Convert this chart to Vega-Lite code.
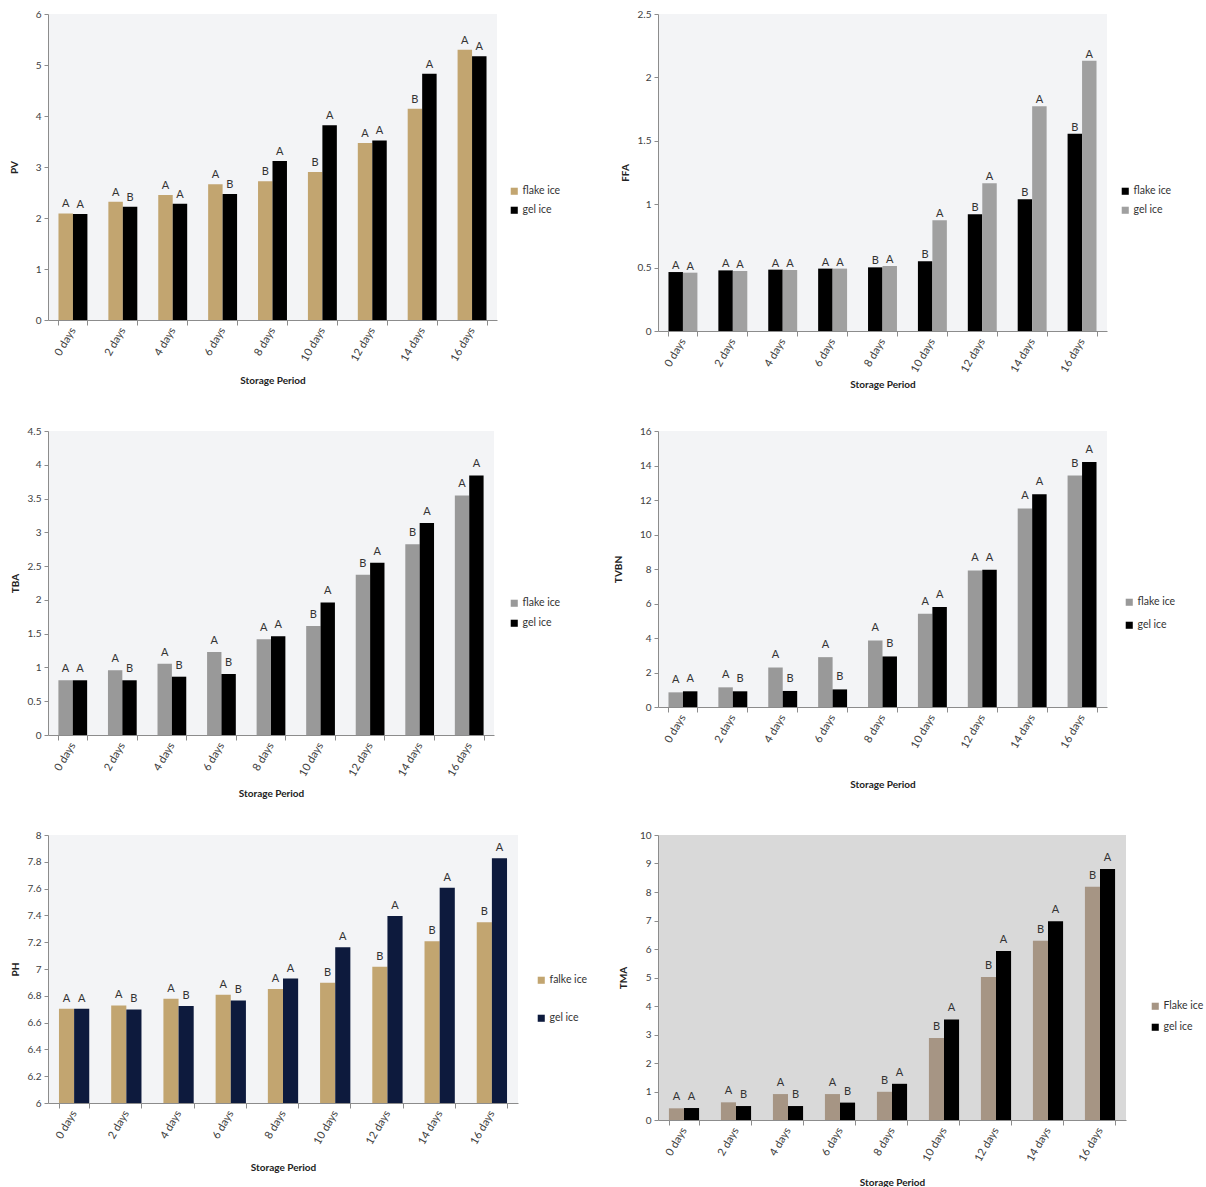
{
  "$schema": "https://vega.github.io/schema/vega-lite/v6.json",
  "padding": {"left": 9, "top": 9, "right": 0, "bottom": 0},
  "background": "white",
  "datasets": {
    "pv": [
      {"period": "0 days", "ice": "flake ice", "value": 2.09, "letter": "A"},
      {"period": "0 days", "ice": "gel ice", "value": 2.08, "letter": "A"},
      {"period": "2 days", "ice": "flake ice", "value": 2.32, "letter": "A"},
      {"period": "2 days", "ice": "gel ice", "value": 2.22, "letter": "B"},
      {"period": "4 days", "ice": "flake ice", "value": 2.45, "letter": "A"},
      {"period": "4 days", "ice": "gel ice", "value": 2.28, "letter": "A"},
      {"period": "6 days", "ice": "flake ice", "value": 2.66, "letter": "A"},
      {"period": "6 days", "ice": "gel ice", "value": 2.47, "letter": "B"},
      {"period": "8 days", "ice": "flake ice", "value": 2.72, "letter": "B"},
      {"period": "8 days", "ice": "gel ice", "value": 3.12, "letter": "A"},
      {"period": "10 days", "ice": "flake ice", "value": 2.90, "letter": "B"},
      {"period": "10 days", "ice": "gel ice", "value": 3.82, "letter": "A"},
      {"period": "12 days", "ice": "flake ice", "value": 3.47, "letter": "A"},
      {"period": "12 days", "ice": "gel ice", "value": 3.52, "letter": "A"},
      {"period": "14 days", "ice": "flake ice", "value": 4.14, "letter": "B"},
      {"period": "14 days", "ice": "gel ice", "value": 4.83, "letter": "A"},
      {"period": "16 days", "ice": "flake ice", "value": 5.30, "letter": "A"},
      {"period": "16 days", "ice": "gel ice", "value": 5.17, "letter": "A"}
    ],
    "ffa": [
      {"period": "0 days", "ice": "flake ice", "value": 0.465, "letter": "A"},
      {"period": "0 days", "ice": "gel ice", "value": 0.46, "letter": "A"},
      {"period": "2 days", "ice": "flake ice", "value": 0.478, "letter": "A"},
      {"period": "2 days", "ice": "gel ice", "value": 0.473, "letter": "A"},
      {"period": "4 days", "ice": "flake ice", "value": 0.484, "letter": "A"},
      {"period": "4 days", "ice": "gel ice", "value": 0.481, "letter": "A"},
      {"period": "6 days", "ice": "flake ice", "value": 0.492, "letter": "A"},
      {"period": "6 days", "ice": "gel ice", "value": 0.492, "letter": "A"},
      {"period": "8 days", "ice": "flake ice", "value": 0.502, "letter": "B"},
      {"period": "8 days", "ice": "gel ice", "value": 0.513, "letter": "A"},
      {"period": "10 days", "ice": "flake ice", "value": 0.55, "letter": "B"},
      {"period": "10 days", "ice": "gel ice", "value": 0.873, "letter": "A"},
      {"period": "12 days", "ice": "flake ice", "value": 0.92, "letter": "B"},
      {"period": "12 days", "ice": "gel ice", "value": 1.165, "letter": "A"},
      {"period": "14 days", "ice": "flake ice", "value": 1.04, "letter": "B"},
      {"period": "14 days", "ice": "gel ice", "value": 1.772, "letter": "A"},
      {"period": "16 days", "ice": "flake ice", "value": 1.556, "letter": "B"},
      {"period": "16 days", "ice": "gel ice", "value": 2.132, "letter": "A"}
    ],
    "tba": [
      {"period": "0 days", "ice": "flake ice", "value": 0.81, "letter": "A"},
      {"period": "0 days", "ice": "gel ice", "value": 0.81, "letter": "A"},
      {"period": "2 days", "ice": "flake ice", "value": 0.957, "letter": "A"},
      {"period": "2 days", "ice": "gel ice", "value": 0.81, "letter": "B"},
      {"period": "4 days", "ice": "flake ice", "value": 1.056, "letter": "A"},
      {"period": "4 days", "ice": "gel ice", "value": 0.863, "letter": "B"},
      {"period": "6 days", "ice": "flake ice", "value": 1.228, "letter": "A"},
      {"period": "6 days", "ice": "gel ice", "value": 0.903, "letter": "B"},
      {"period": "8 days", "ice": "flake ice", "value": 1.416, "letter": "A"},
      {"period": "8 days", "ice": "gel ice", "value": 1.46, "letter": "A"},
      {"period": "10 days", "ice": "flake ice", "value": 1.613, "letter": "B"},
      {"period": "10 days", "ice": "gel ice", "value": 1.963, "letter": "A"},
      {"period": "12 days", "ice": "flake ice", "value": 2.373, "letter": "B"},
      {"period": "12 days", "ice": "gel ice", "value": 2.55, "letter": "A"},
      {"period": "14 days", "ice": "flake ice", "value": 2.822, "letter": "B"},
      {"period": "14 days", "ice": "gel ice", "value": 3.138, "letter": "A"},
      {"period": "16 days", "ice": "flake ice", "value": 3.547, "letter": "A"},
      {"period": "16 days", "ice": "gel ice", "value": 3.843, "letter": "A"}
    ],
    "tvbn": [
      {"period": "0 days", "ice": "flake ice", "value": 0.85, "letter": "A"},
      {"period": "0 days", "ice": "gel ice", "value": 0.91, "letter": "A"},
      {"period": "2 days", "ice": "flake ice", "value": 1.14, "letter": "A"},
      {"period": "2 days", "ice": "gel ice", "value": 0.91, "letter": "B"},
      {"period": "4 days", "ice": "flake ice", "value": 2.29, "letter": "A"},
      {"period": "4 days", "ice": "gel ice", "value": 0.93, "letter": "B"},
      {"period": "6 days", "ice": "flake ice", "value": 2.89, "letter": "A"},
      {"period": "6 days", "ice": "gel ice", "value": 1.02, "letter": "B"},
      {"period": "8 days", "ice": "flake ice", "value": 3.86, "letter": "A"},
      {"period": "8 days", "ice": "gel ice", "value": 2.93, "letter": "B"},
      {"period": "10 days", "ice": "flake ice", "value": 5.40, "letter": "A"},
      {"period": "10 days", "ice": "gel ice", "value": 5.80, "letter": "A"},
      {"period": "12 days", "ice": "flake ice", "value": 7.92, "letter": "A"},
      {"period": "12 days", "ice": "gel ice", "value": 7.96, "letter": "A"},
      {"period": "14 days", "ice": "flake ice", "value": 11.51, "letter": "A"},
      {"period": "14 days", "ice": "gel ice", "value": 12.34, "letter": "A"},
      {"period": "16 days", "ice": "flake ice", "value": 13.42, "letter": "B"},
      {"period": "16 days", "ice": "gel ice", "value": 14.21, "letter": "A"}
    ],
    "ph": [
      {"period": "0 days", "ice": "falke ice", "value": 6.703, "letter": "A"},
      {"period": "0 days", "ice": "gel ice", "value": 6.703, "letter": "A"},
      {"period": "2 days", "ice": "falke ice", "value": 6.728, "letter": "A"},
      {"period": "2 days", "ice": "gel ice", "value": 6.698, "letter": "B"},
      {"period": "4 days", "ice": "falke ice", "value": 6.778, "letter": "A"},
      {"period": "4 days", "ice": "gel ice", "value": 6.723, "letter": "B"},
      {"period": "6 days", "ice": "falke ice", "value": 6.807, "letter": "A"},
      {"period": "6 days", "ice": "gel ice", "value": 6.765, "letter": "B"},
      {"period": "8 days", "ice": "falke ice", "value": 6.85, "letter": "A"},
      {"period": "8 days", "ice": "gel ice", "value": 6.929, "letter": "A"},
      {"period": "10 days", "ice": "falke ice", "value": 6.897, "letter": "B"},
      {"period": "10 days", "ice": "gel ice", "value": 7.163, "letter": "A"},
      {"period": "12 days", "ice": "falke ice", "value": 7.016, "letter": "B"},
      {"period": "12 days", "ice": "gel ice", "value": 7.396, "letter": "A"},
      {"period": "14 days", "ice": "falke ice", "value": 7.207, "letter": "B"},
      {"period": "14 days", "ice": "gel ice", "value": 7.607, "letter": "A"},
      {"period": "16 days", "ice": "falke ice", "value": 7.349, "letter": "B"},
      {"period": "16 days", "ice": "gel ice", "value": 7.826, "letter": "A"}
    ],
    "tma": [
      {"period": "0 days", "ice": "Flake ice", "value": 0.41, "letter": "A"},
      {"period": "0 days", "ice": "gel ice", "value": 0.42, "letter": "A"},
      {"period": "2 days", "ice": "Flake ice", "value": 0.62, "letter": "A"},
      {"period": "2 days", "ice": "gel ice", "value": 0.49, "letter": "B"},
      {"period": "4 days", "ice": "Flake ice", "value": 0.91, "letter": "A"},
      {"period": "4 days", "ice": "gel ice", "value": 0.49, "letter": "B"},
      {"period": "6 days", "ice": "Flake ice", "value": 0.91, "letter": "A"},
      {"period": "6 days", "ice": "gel ice", "value": 0.61, "letter": "B"},
      {"period": "8 days", "ice": "Flake ice", "value": 0.99, "letter": "B"},
      {"period": "8 days", "ice": "gel ice", "value": 1.27, "letter": "A"},
      {"period": "10 days", "ice": "Flake ice", "value": 2.88, "letter": "B"},
      {"period": "10 days", "ice": "gel ice", "value": 3.53, "letter": "A"},
      {"period": "12 days", "ice": "Flake ice", "value": 5.02, "letter": "B"},
      {"period": "12 days", "ice": "gel ice", "value": 5.93, "letter": "A"},
      {"period": "14 days", "ice": "Flake ice", "value": 6.29, "letter": "B"},
      {"period": "14 days", "ice": "gel ice", "value": 6.97, "letter": "A"},
      {"period": "16 days", "ice": "Flake ice", "value": 8.18, "letter": "B"},
      {"period": "16 days", "ice": "gel ice", "value": 8.81, "letter": "A"}
    ]
  },
  "columns": 2,
  "align": "each",
  "bounds": "flush",
  "spacing": {"row": 100, "column": 140},
  "resolve": {
    "scale": {"x": "independent", "y": "independent", "color": "independent", "xOffset": "independent"},
    "axis": {"x": "independent", "y": "independent"},
    "legend": {"color": "independent"}
  },
  "concat": [
    {
      "width": 449, "height": 306,
      "data": {"name": "pv"},
      "view": {"fill": "#f3f4f6", "stroke": null},
      "encoding": {
        "x": {"field": "period", "type": "nominal", "sort": null, "scale": {"paddingInner": 0.42, "paddingOuter": 0.21}, "axis": {"title": "Storage Period", "titlePadding": 13}},
        "xOffset": {"field": "ice", "type": "nominal", "sort": ["flake ice", "gel ice"]},
        "y": {"field": "value", "type": "quantitative", "scale": {"domain": [0, 6]}, "axis": {"title": "PV", "values": [0, 1, 2, 3, 4, 5, 6], "format": "~r", "titlePadding": 16}}
      },
      "layer": [
        {"mark": {"type": "bar"}, "encoding": {"color": {"field": "ice", "type": "nominal", "scale": {"domain": ["flake ice", "gel ice"], "range": ["#c2a570", "#000000"]}, "legend": {"orient": "none", "legendX": 461, "legendY": 172, "rowPadding": 8}}}},
        {"mark": {"type": "text", "baseline": "bottom", "dy": -4, "fontSize": 11, "color": "#333333"}, "encoding": {"text": {"field": "letter"}}}
      ]
    },
    {
      "width": 449, "height": 317,
      "data": {"name": "ffa"},
      "view": {"fill": "#f3f4f6", "stroke": null},
      "encoding": {
        "x": {"field": "period", "type": "nominal", "sort": null, "scale": {"paddingInner": 0.42, "paddingOuter": 0.21}, "axis": {"title": "Storage Period", "titlePadding": 6}},
        "xOffset": {"field": "ice", "type": "nominal", "sort": ["flake ice", "gel ice"]},
        "y": {"field": "value", "type": "quantitative", "scale": {"domain": [0, 2.5]}, "axis": {"title": "FFA", "values": [0, 0.5, 1, 1.5, 2, 2.5], "format": "~r", "titlePadding": 7}}
      },
      "layer": [
        {"mark": {"type": "bar"}, "encoding": {"color": {"field": "ice", "type": "nominal", "scale": {"domain": ["flake ice", "gel ice"], "range": ["#000000", "#a0a0a0"]}, "legend": {"orient": "none", "legendX": 462, "legendY": 172, "rowPadding": 8}}}},
        {"mark": {"type": "text", "baseline": "bottom", "dy": -1, "fontSize": 11, "color": "#333333"}, "encoding": {"text": {"field": "letter"}}}
      ]
    },
    {
      "width": 446, "height": 304,
      "data": {"name": "tba"},
      "view": {"fill": "#f3f4f6", "stroke": null},
      "encoding": {
        "x": {"field": "period", "type": "nominal", "sort": null, "scale": {"paddingInner": 0.42, "paddingOuter": 0.21}, "axis": {"title": "Storage Period", "titlePadding": 11}},
        "xOffset": {"field": "ice", "type": "nominal", "sort": ["flake ice", "gel ice"]},
        "y": {"field": "value", "type": "quantitative", "scale": {"domain": [0, 4.5]}, "axis": {"title": "TBA", "values": [0, 0.5, 1, 1.5, 2, 2.5, 3, 3.5, 4, 4.5], "format": "~r", "titlePadding": 7}}
      },
      "layer": [
        {"mark": {"type": "bar"}, "encoding": {"color": {"field": "ice", "type": "nominal", "scale": {"domain": ["flake ice", "gel ice"], "range": ["#999999", "#000000"]}, "legend": {"orient": "none", "legendX": 461, "legendY": 167, "rowPadding": 9}}}},
        {"mark": {"type": "text", "baseline": "bottom", "dy": -6, "fontSize": 11, "color": "#333333"}, "encoding": {"text": {"field": "letter"}}}
      ]
    },
    {
      "width": 449, "height": 276,
      "data": {"name": "tvbn"},
      "view": {"fill": "#f3f4f6", "stroke": null},
      "encoding": {
        "x": {"field": "period", "type": "nominal", "sort": null, "scale": {"paddingInner": 0.42, "paddingOuter": 0.21}, "axis": {"title": "Storage Period", "titlePadding": 30}},
        "xOffset": {"field": "ice", "type": "nominal", "sort": ["flake ice", "gel ice"]},
        "y": {"field": "value", "type": "quantitative", "scale": {"domain": [0, 16]}, "axis": {"title": "TVBN", "values": [0, 2, 4, 6, 8, 10, 12, 14, 16], "format": "~r", "titlePadding": 16}}
      },
      "layer": [
        {"mark": {"type": "bar"}, "encoding": {"color": {"field": "ice", "type": "nominal", "scale": {"domain": ["flake ice", "gel ice"], "range": ["#999999", "#000000"]}, "legend": {"orient": "none", "legendX": 466, "legendY": 166, "rowPadding": 12}}}},
        {"mark": {"type": "text", "baseline": "bottom", "dy": -7, "fontSize": 11, "color": "#333333"}, "encoding": {"text": {"field": "letter"}}}
      ]
    },
    {
      "width": 470, "height": 268,
      "data": {"name": "ph"},
      "view": {"fill": "#f3f4f6", "stroke": null},
      "encoding": {
        "x": {"field": "period", "type": "nominal", "sort": null, "scale": {"paddingInner": 0.42, "paddingOuter": 0.21}, "axis": {"title": "Storage Period", "titlePadding": 17}},
        "xOffset": {"field": "ice", "type": "nominal", "sort": ["falke ice", "gel ice"]},
        "y": {"field": "value", "type": "quantitative", "scale": {"domain": [6, 8], "zero": false}, "axis": {"title": "PH", "values": [6, 6.2, 6.4, 6.6, 6.8, 7, 7.2, 7.4, 7.6, 7.8, 8], "format": "~r", "titlePadding": 7}}
      },
      "layer": [
        {"mark": {"type": "bar"}, "encoding": {"y2": {"datum": 6}, "color": {"field": "ice", "type": "nominal", "scale": {"domain": ["falke ice", "gel ice"], "range": ["#c2a570", "#0d1a3d"]}, "legend": {"orient": "none", "legendX": 488, "legendY": 140, "rowPadding": 27}}}},
        {"mark": {"type": "text", "baseline": "bottom", "dy": -5, "fontSize": 11, "color": "#333333"}, "encoding": {"text": {"field": "letter"}}}
      ]
    },
    {
      "width": 468, "height": 285,
      "data": {"name": "tma"},
      "view": {"fill": "#d9d9d9", "stroke": null},
      "encoding": {
        "x": {"field": "period", "type": "nominal", "sort": null, "scale": {"paddingInner": 0.42, "paddingOuter": 0.21}, "axis": {"title": "Storage Period", "titlePadding": 15}},
        "xOffset": {"field": "ice", "type": "nominal", "sort": ["Flake ice", "gel ice"]},
        "y": {"field": "value", "type": "quantitative", "scale": {"domain": [0, 10]}, "axis": {"title": "TMA", "values": [0, 1, 2, 3, 4, 5, 6, 7, 8, 9, 10], "format": "~r", "titlePadding": 11}}
      },
      "layer": [
        {"mark": {"type": "bar"}, "encoding": {"color": {"field": "ice", "type": "nominal", "scale": {"domain": ["Flake ice", "gel ice"], "range": ["#a69584", "#000000"]}, "legend": {"orient": "none", "legendX": 492, "legendY": 166, "rowPadding": 10}}}},
        {"mark": {"type": "text", "baseline": "bottom", "dy": -6, "fontSize": 11, "color": "#333333"}, "encoding": {"text": {"field": "letter"}}}
      ]
    }
  ],
  "config": {
    "font": "Lato",
    "view": {"stroke": null},
    "axis": {
      "labelFont": "Lato", "labelFontSize": 10, "labelColor": "#404040",
      "titleFont": "Lato", "titleFontSize": 10, "titleFontWeight": "bold", "titleColor": "#222222",
      "domainColor": "#8c8c8c", "tickColor": "#8c8c8c", "tickSize": 4, "grid": false, "labelPadding": 3
    },
    "axisX": {"labelAngle": -60, "labelFontSize": 11, "tickBand": "extent", "tickSize": 5},
    "legend": {
      "title": null, "symbolType": "square", "symbolSize": 50, "symbolStrokeWidth": 0,
      "labelFont": "Lato", "labelFontSize": 10.5, "labelColor": "#333333", "padding": 0, "labelOffset": 3
    },
    "text": {"font": "Lato"}
  }
}
